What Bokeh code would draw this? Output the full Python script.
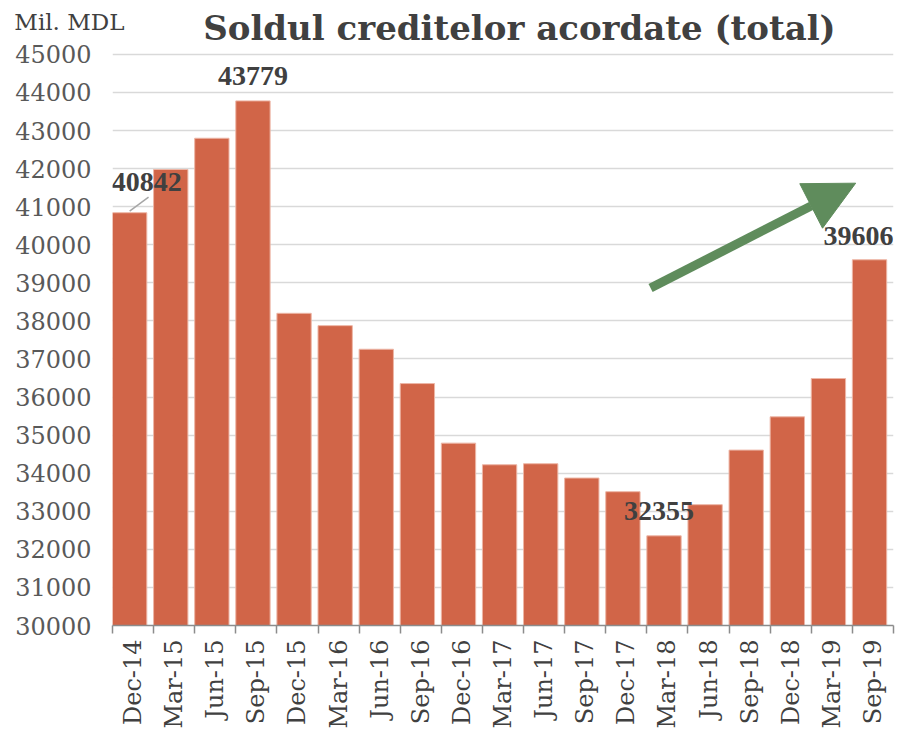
from bokeh.plotting import figure
from bokeh.models import (ColumnDataSource, LabelSet, Label, Arrow, NormalHead,
                          FixedTicker, Range1d, LinearAxis)
from bokeh.embed import file_html
from bokeh.resources import INLINE

# ---- data ----
categories = ["Dec-14", "Mar-15", "Jun-15", "Sep-15", "Dec-15", "Mar-16", "Jun-16",
              "Sep-16", "Dec-16", "Mar-17", "Jun-17", "Sep-17", "Dec-17", "Mar-18",
              "Jun-18", "Sep-18", "Dec-18", "Mar-19", "Sep-19"]
values = [40842, 41977, 42798, 43779, 38200, 37876, 37256, 36355, 34790, 34222,
          34249, 33873, 33514, 32355, 33173, 34607, 35481, 36487, 39606]
labeled_categories = ["Dec-14", "Sep-15", "Mar-18", "Sep-19"]
y_ticks = list(range(30000, 45001, 1000))
title_text = "Soldul creditelor acordate (total)"
unit_text = "Mil. MDL"

# ---- styling / geometry ----
FONT = "DejaVu Serif"
BAR_FILL = "#D16548"
BAR_LINE = "#EDB6A6"
GRID = "#D9D9D9"
TEXT_DARK = "#404040"
TEXT_GREY = "#595959"
ARROW_GREEN = "#5F8C5C"
BAR_SHIFT = 0.417      # bars sit left inside each category slot
BAR_WIDTH = 0.835
W, H = 902, 731
FRAME_LEFT, FRAME_RIGHT_GAP, FRAME_BOTTOM_GAP = 112, 9, 105
Y0, Y1 = 30000, 45000
PX_Y1 = 54             # pixel row of the 45000 gridline (frame reaches the top)
frame_h = H - FRAME_BOTTOM_GAP
y_top = Y0 + (Y1 - Y0) * frame_h / (frame_h - PX_Y1)

def y_at(px):  # data value at a pixel row (for annotations above the grid)
    return Y0 + (frame_h - px) * (Y1 - Y0) / (frame_h - PX_Y1)

label_x_offsets = {"Dec-14": 17, "Sep-15": 0, "Mar-18": -5, "Sep-19": -11}
label_y_offsets = {"Dec-14": 31, "Sep-15": 25, "Mar-18": 25, "Sep-19": 24}

n = len(categories)
xs = [i + BAR_SHIFT for i in range(n)]
src = ColumnDataSource(dict(x=xs, top=values, cat=categories))

p = figure(width=W, height=H, output_backend="svg", toolbar_location=None,
           x_range=Range1d(0, n), y_range=Range1d(Y0, y_top),
           min_border_left=FRAME_LEFT, min_border_right=FRAME_RIGHT_GAP,
           min_border_top=0, min_border_bottom=FRAME_BOTTOM_GAP,
           title_location=None)
p.outline_line_color = None
p.background_fill_color = "white"
p.border_fill_color = "white"

p.vbar(x="x", top="top", bottom=Y0, width=BAR_WIDTH, source=src,
       fill_color=BAR_FILL, line_color=BAR_LINE, line_width=1)

# main y axis
yax = p.yaxis[0]
yax.ticker = FixedTicker(ticks=y_ticks)
yax.axis_line_color = None
yax.major_tick_line_color = None
yax.minor_tick_line_color = None
yax.major_label_text_font = FONT
yax.major_label_text_font_size = "24px"
yax.major_label_text_color = TEXT_GREY
yax.major_label_standoff = -86
p.ygrid.ticker = FixedTicker(ticks=y_ticks)
p.ygrid.grid_line_color = GRID
p.ygrid.grid_line_width = 1.6
p.xgrid.grid_line_color = None

# unit caption as a single labelled tick of a second left axis
unit_y = y_at(22)
uax = LinearAxis(ticker=FixedTicker(ticks=[unit_y]),
                 major_label_overrides={unit_y: unit_text},
                 axis_line_color=None, major_tick_line_color=None,
                 minor_tick_line_color=None, major_label_standoff=-18,
                 major_label_text_font=FONT, major_label_text_font_size="23px",
                 major_label_text_color=TEXT_DARK)
p.left = [uax] + list(p.left)

# x axis: labels at category centres, ticks at boundaries
centers = [i + 0.5 for i in range(n)]
p.xaxis.ticker = FixedTicker(ticks=centers, minor_ticks=list(range(n + 1)))
p.xaxis.major_label_overrides = {c: lab for c, lab in zip(centers, categories)}
p.xaxis.major_label_orientation = 1.5707963
p.xaxis.major_tick_line_color = None
p.xaxis.minor_tick_line_color = "#8C8C8C"
p.xaxis.minor_tick_in = 0
p.xaxis.minor_tick_out = 8
p.xaxis.minor_tick_line_width = 1.5
p.xaxis.axis_line_color = "#8C8C8C"
p.xaxis.axis_line_width = 1.5
p.xaxis.major_label_text_font = FONT
p.xaxis.major_label_text_font_size = "24px"
p.xaxis.major_label_text_color = TEXT_DARK
p.xaxis.major_label_standoff = 6

# data labels
lab_idx = [categories.index(c) for c in labeled_categories]
lab_src = ColumnDataSource(dict(
    x=[xs[i] for i in lab_idx],
    y=[values[i] for i in lab_idx],
    text=[str(values[i]) for i in lab_idx],
    xo=[label_x_offsets[c] for c in labeled_categories],
    yo=[label_y_offsets[c] for c in labeled_categories],
))
p.add_layout(LabelSet(x="x", y="y", text="text", x_offset="xo", y_offset="yo",
                      source=lab_src, text_align="center", text_baseline="middle",
                      text_font=FONT, text_font_size="28px", text_font_style="bold",
                      text_color=TEXT_DARK))

# leader line for the first label
i0 = categories.index("Dec-14")
p.add_layout(Arrow(x_start=xs[i0], y_start=values[i0] + 40,
                   x_end=xs[i0] + 0.46, y_end=values[i0] + 410,
                   end=None, line_color="#A6A6A6", line_width=1.5))

# trend arrow
p.add_layout(Arrow(x_start=13.09, y_start=38864, x_end=18.08, y_end=41618,
                   line_color=ARROW_GREEN, line_width=9,
                   end=NormalHead(size=50, fill_color=ARROW_GREEN,
                                  line_color=ARROW_GREEN, line_width=1)))

# title
p.add_layout(Label(x=9.9, y=y_at(28), text=title_text, text_align="center",
                   text_baseline="middle", text_font=FONT, text_font_size="34px",
                   text_font_style="bold", text_color=TEXT_DARK))

open("out.html", "w").write(file_html(p, INLINE))
